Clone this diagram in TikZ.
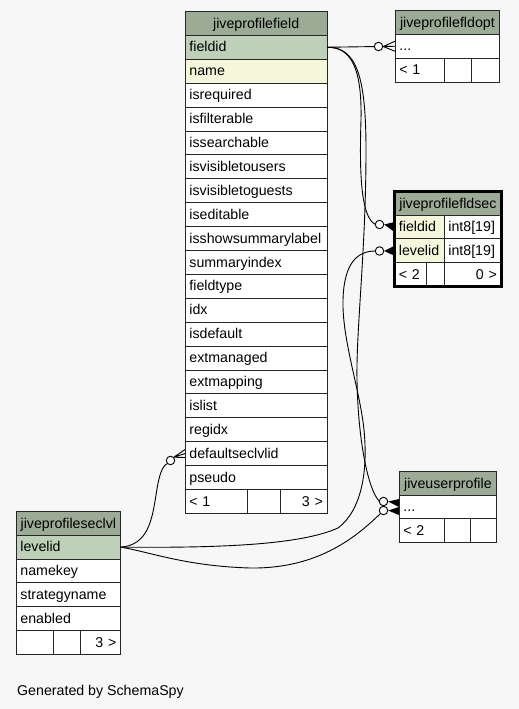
\documentclass[tikz,border=0pt]{standalone}
\usepackage{fontspec}
\setmainfont{Liberation Sans}
\usetikzlibrary{positioning}
\definecolor{hdgreen}{HTML}{9BAB96}
\definecolor{pkgreen}{HTML}{BED1B8}
\definecolor{idxyel}{HTML}{F4F7DA}
\definecolor{canvas}{HTML}{F7F7F7}

\begin{document}
\begin{tikzpicture}[x=1pt, y=-1pt,
    font=\fontsize{14.2}{16}\selectfont,
    cell/.style={draw=black!85, line width=0.8pt, anchor=north west, inner xsep=4pt, inner ysep=0pt,
                 minimum height=23.9pt, text height=11pt, text depth=1.6pt, align=left, text width=#1},
    hd/.style={cell=#1, inner xsep=1pt, fill=hdgreen, align=center},
    rc/.style={cell=#1, align=right},
    fk/.style={line width=0.9pt, draw=black},
    odot/.style={circle, draw=black, line width=0.9pt, fill=white, minimum size=8.5pt, inner sep=0pt}]
    \fill[canvas] (0,0) rectangle (519,709);
    \useasboundingbox (0,0) rectangle (519,709);

    % jiveprofilefield
    \node[hd=139.5pt] (pf) at (185,11) {jiveprofilefield};
    \foreach \n/\c [count=\i] in {fieldid/pkgreen, name/idxyel, isrequired/white, isfilterable/white,
        issearchable/white, isvisibletousers/white, isvisibletoguests/white, iseditable/white,
        isshowsummarylabel/white, summaryindex/white, fieldtype/white, idx/white, isdefault/white,
        extmanaged/white, extmapping/white, islist/white, regidx/white, defaultseclvlid/white, pseudo/white}
      \node[cell=133.5pt, fill=\c] (pf-\n) at (185,{11+23.9*\i}) {\n};
    \node[cell=54pt, fill=white] (pf-f1) at (185,489) {< 1};
    \node[cell=25pt, fill=white] (pf-f2) at (247,489) {};
    \node[rc=38.5pt, fill=white] (pf-f3) at (280,489) {3 >};

    % jiveprofilefldopt
    \node[hd=102pt] (fo) at (395,10) {jiveprofilefldopt};
    \node[cell=96pt, fill=white] (fo-dots) at (395,33.9) {...};
    \node[cell=41pt, fill=white] (fo-f1) at (395,57.8) {< 1};
    \node[cell=19pt, fill=white] (fo-f2) at (444,57.8) {};
    \node[cell=20pt, fill=white] (fo-f3) at (471,57.8) {};

    % jiveprofilefldsec
    \begin{scope}[every node/.append style={minimum height=23.7pt}]
    \node[hd=104pt] (sec) at (394.5,191) {jiveprofilefldsec};
    \node[cell=41.5pt, fill=idxyel] (sec-fieldid) at (394.5,214.7) {fieldid};
    \node[cell=48.5pt, fill=white] (sec-fieldtype) at (444,214.7) {int8[19]};
    \node[cell=41.5pt, fill=idxyel] (sec-levelid) at (394.5,238.4) {levelid};
    \node[cell=48.5pt, fill=white] (sec-leveltype) at (444,238.4) {int8[19]};
    \node[cell=23.5pt, fill=white] (sec-f1) at (394.5,262.1) {< 2};
    \node[cell=10pt, fill=white] (sec-f2) at (426,262.1) {};
    \node[rc=48.5pt, fill=white] (sec-f3) at (444,262.1) {0 >};
    \end{scope}
    \draw[line width=3pt] (sec.north west) rectangle (sec-f3.south east);

    % jiveuserprofile
    \begin{scope}[every node/.append style={minimum height=23.7pt}]
    \node[hd=95pt] (up) at (399,471) {jiveuserprofile};
    \node[cell=89pt, fill=white] (up-dots) at (399,494.7) {...};
    \node[cell=37pt, fill=white] (up-f1) at (399,518.4) {< 2};
    \node[cell=18pt, fill=white] (up-f2) at (444,518.4) {};
    \node[cell=18pt, fill=white] (up-f3) at (470,518.4) {};
    \end{scope}

    % jiveprofileseclvl
    \begin{scope}[every node/.append style={minimum height=23.8pt}]
    \node[hd=102pt] (ps) at (16,511) {jiveprofileseclvl};
    \foreach \n/\c [count=\i] in {levelid/pkgreen, namekey/white, strategyname/white, enabled/white}
      \node[cell=96pt, fill=\c] (ps-\n) at (16,{511+23.8*\i}) {\n};
    \node[cell=29pt, fill=white] (ps-f1) at (16,630) {};
    \node[cell=19pt, fill=white] (ps-f2) at (53,630) {};
    \node[rc=32pt, fill=white] (ps-f3) at (80,630) {3 >};
    \end{scope}

    % relationships
    \draw[fk] (pf-fieldid.east) -- (378.5,46.5) coordinate (c-opt-at);
    \draw[fk] (pf-fieldid.east) .. controls (352,47) and (362,70) .. (361,120)
        .. controls (359,180) and (362,218) .. (375.5,224.5);
    \draw[fk] (pf-fieldid.east) .. controls (356,47) and (366,75) .. (366,150)
        .. controls (366,250) and (356,330) .. (357,380)
        .. controls (358,440) and (368,490) .. (379.5,501.5);
    \draw[fk] (ps-levelid.east) .. controls (220,548) and (300,545) .. (338,528)
        .. controls (362,510) and (368,470) .. (364,430)
        .. controls (360,390) and (342,340) .. (343,300)
        .. controls (344,262) and (358,251) .. (375.5,251);
    \draw[fk] (ps-levelid.east) .. controls (150,552) and (185,566) .. (250,568)
        .. controls (320,569) and (358,535) .. (380.5,513.5);
    \draw[fk] (ps-levelid.east) .. controls (148,545) and (152,520) .. (156,495)
        .. controls (159,475) and (162,466) .. (167.5,463.5);

    \node[odot] (c-opt) at (378.5,46.5) {};
    \node[odot] (c-sec1) at (379.5,224.5) {};
    \node[odot] (c-sec2) at (379.5,251) {};
    \node[odot] (c-up1) at (383.5,501.5) {};
    \node[odot] (c-up2) at (383.5,510.5) {};
    \node[odot] (c-def) at (170.5,460.5) {};

    % crow's feet
    \draw[fk] (c-opt.east) -- ([yshift=5pt]fo-dots.west) (c-opt.east) -- (fo-dots.west)
        (c-opt.east) -- ([yshift=-5pt]fo-dots.west);
    \draw[fk] (c-def.north east) -- ([yshift=4pt]pf-defaultseclvlid.west) (c-def.north east) -- (pf-defaultseclvlid.west)
        (c-def.north east) -- ([yshift=-4pt]pf-defaultseclvlid.west);
    \fill (c-sec1.east) -- ([yshift=5pt]sec-fieldid.west) -- ([yshift=-5pt]sec-fieldid.west) -- cycle;
    \fill (c-sec2.east) -- ([yshift=5pt]sec-levelid.west) -- ([yshift=-5pt]sec-levelid.west) -- cycle;
    \fill (c-up1.east) -- ([yshift=8pt]up-dots.west) -- (up-dots.west) -- cycle;
    \fill (c-up2.east) -- (up-dots.west) -- ([yshift=-8pt]up-dots.west) -- cycle;

    \node[anchor=base west, inner sep=0pt] (gen) at (17,695.5) {Generated by SchemaSpy};
\end{tikzpicture}
\end{document}
